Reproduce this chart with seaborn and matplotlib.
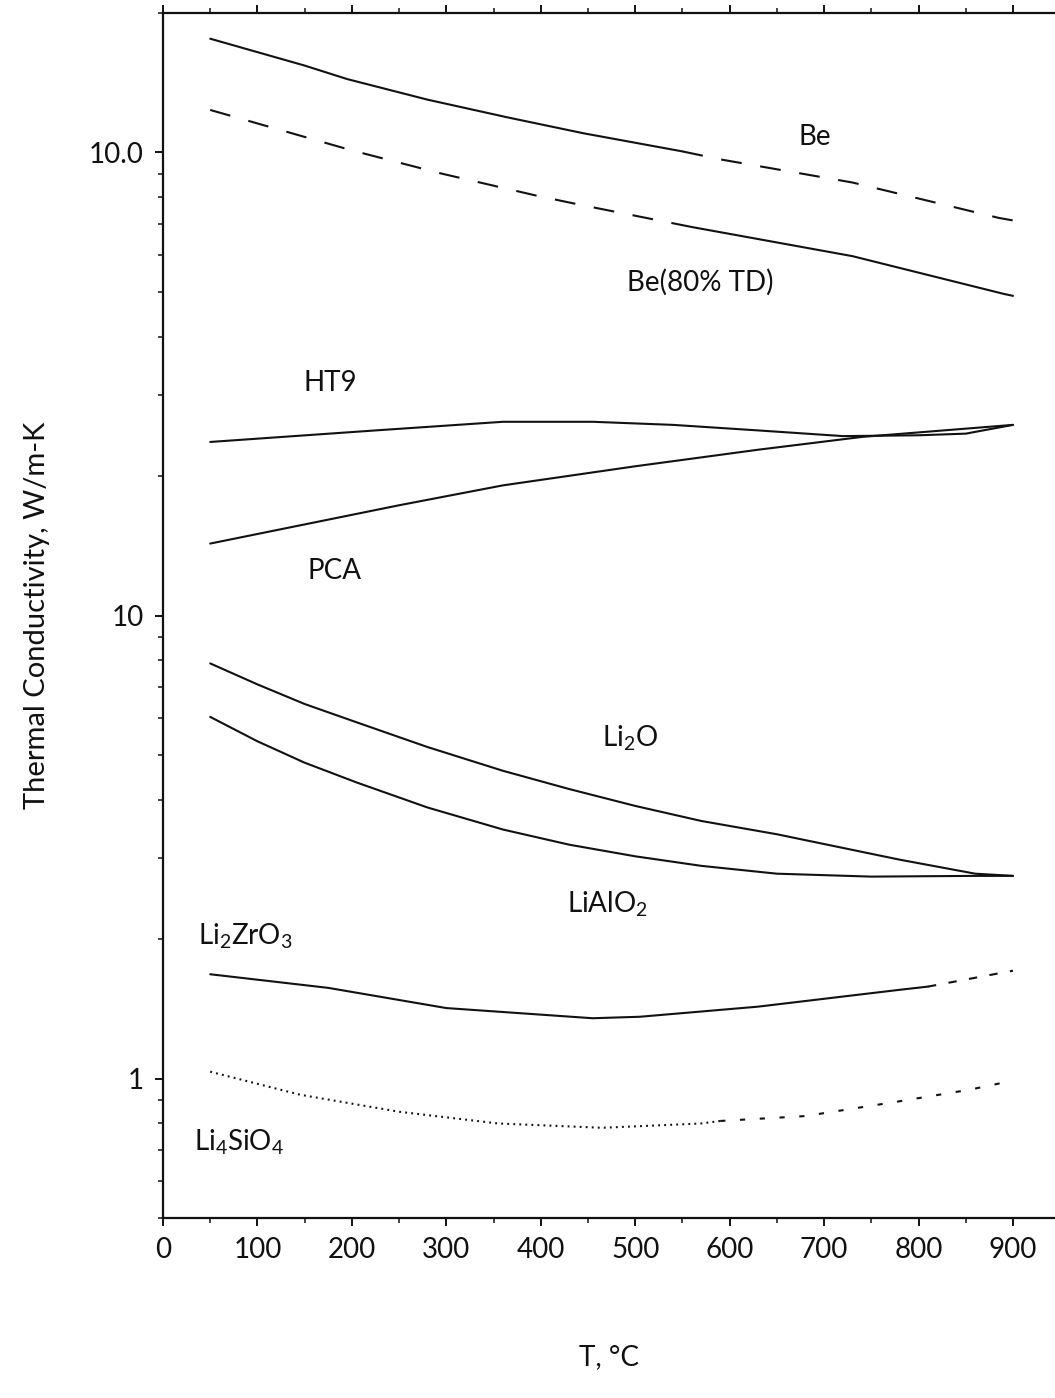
import numpy as np
import pandas as pd
import matplotlib
matplotlib.use("Agg")
import matplotlib.pyplot as plt
from matplotlib.ticker import FixedLocator, NullFormatter, FixedFormatter
import seaborn as sns

# ---------------- data ----------------
be_T = [50, 150, 195, 280, 365, 445, 550, 590, 730, 885, 900]
be_k = [176, 154, 144, 130, 119, 110, 100.5, 96.6, 86.1, 72.2, 71.3]

be80_T = [50, 200, 295, 395, 440, 560, 730, 890, 900]
be80_k = [123.5, 101, 90, 80.7, 77.2, 69.0, 59.7, 49.5, 49.0]

ht9_T = [50, 225, 360, 455, 540, 630, 720, 800, 850, 900]
ht9_k = [23.7, 25.1, 26.2, 26.2, 25.8, 25.1, 24.4, 24.5, 24.7, 25.8]

pca_T = [50, 250, 360, 500, 630, 740, 900]
pca_k = [14.3, 17.3, 19.1, 21.0, 22.8, 24.3, 25.8]

li2o_T = [50, 100, 150, 205, 280, 360, 430, 500, 570, 650, 780, 860, 900]
li2o_k = [7.88, 7.1, 6.44, 5.88, 5.2, 4.62, 4.22, 3.88, 3.6, 3.37, 2.97, 2.77, 2.74]

lialo2_T = [50, 100, 150, 205, 280, 360, 430, 500, 570, 650, 750, 860, 900]
lialo2_k = [6.04, 5.35, 4.81, 4.36, 3.85, 3.45, 3.2, 3.02, 2.88, 2.77, 2.73, 2.74, 2.74]

li2zro3_T = [50, 175, 300, 455, 505, 630, 780, 810, 900]
li2zro3_k = [1.68, 1.57, 1.42, 1.35, 1.36, 1.43, 1.555, 1.58, 1.71]

li4sio4_T = [50, 145, 250, 355, 465, 570, 590, 680, 775, 855, 900]
li4sio4_k = [1.035, 0.923, 0.848, 0.800, 0.783, 0.800, 0.810, 0.830, 0.890, 0.947, 0.990]

x_ticks = [0, 100, 200, 300, 400, 500, 600, 700, 800, 900]
y_major = [1, 10, 100]
y_major_labels = ["1", "10", "10.0"]

labels = ["Be", "Be(80% TD)", "HT9", "PCA", "Li$_2$O", "LiAlO$_2$",
          "Li$_2$ZrO$_3$", "Li$_4$SiO$_4$"]
label_T = [690, 569, 177, 182, 494, 471, 87, 81]
label_k = [108, 52.3, 31.8, 12.5, 5.42, 2.38, 2.03, 0.73]

# ---------------- style ----------------
sns.set_style("ticks")
plt.rcParams["font.family"] = ["Lato", "DejaVu Sans"]
plt.rcParams["mathtext.default"] = "regular"

fig = plt.figure(figsize=(10.55, 13.98), dpi=100)
ax = fig.add_axes([163 / 1055, 180 / 1398, 1 - 163 / 1055, (1218 - 13) / 1398])

LW = 1.5
INK = "#111111"


def seg(T, k, lo, hi, ls):
    df = pd.DataFrame({"T": T, "k": k})
    df = df[(df["T"] >= lo) & (df["T"] <= hi)]
    sns.lineplot(data=df, x="T", y="k", ax=ax, color=INK, lw=LW,
                 estimator=None, sort=False, linestyle=ls)


seg(be_T, be_k, 0, 550, "-")
seg(be_T, be_k, 550, 1000, (0, (10, 9)))
seg(be80_T, be80_k, 0, 560, (0, (10, 9)))
seg(be80_T, be80_k, 560, 1000, "-")
seg(ht9_T, ht9_k, 0, 1000, "-")
seg(pca_T, pca_k, 0, 1000, "-")
seg(li2o_T, li2o_k, 0, 1000, "-")
seg(lialo2_T, lialo2_k, 0, 1000, "-")
seg(li2zro3_T, li2zro3_k, 0, 810, "-")
seg(li2zro3_T, li2zro3_k, 810, 1000, (0, (4, 6)))
seg(li4sio4_T, li4sio4_k, 0, 590, (0, (0.9, 2.0)))
seg(li4sio4_T, li4sio4_k, 590, 1000, (0, (2.5, 7)))

for txt, t, k in zip(labels, label_T, label_k):
    ax.text(t, k, txt, fontsize=20, ha="center", va="center", color=INK)

ax.set_yscale("log")
ax.set_xlim(0, 944.5)
ax.set_ylim(0.5, 200)

ax.xaxis.set_major_locator(FixedLocator(x_ticks))
ax.xaxis.set_minor_locator(FixedLocator([50 + 100 * i for i in range(9)]))
ax.set_xticklabels([str(v) for v in x_ticks])

minors = [0.5, 0.6, 0.7, 0.8, 0.9] + [m * 10 ** e for e in (0, 1) for m in range(2, 10)] + [200]
ax.yaxis.set_major_locator(FixedLocator(y_major))
ax.yaxis.set_major_formatter(FixedFormatter(y_major_labels))
ax.yaxis.set_minor_locator(FixedLocator(minors))
ax.yaxis.set_minor_formatter(NullFormatter())

ax.tick_params(axis="both", which="major", direction="out", length=6, width=1.4,
               labelsize=20, colors=INK, pad=8)
ax.tick_params(axis="both", which="minor", direction="out", length=3.5, width=1.2)
ax.tick_params(axis="x", top=True, which="both")
ax.tick_params(axis="x", labeltop=False)

for s in ["left", "bottom", "top"]:
    ax.spines[s].set_linewidth(1.6)
    ax.spines[s].set_color(INK)
ax.spines["right"].set_visible(False)

ax.set_xlabel("T, °C", fontsize=20, labelpad=58, color=INK)
ax.set_ylabel("Thermal Conductivity, W/m-K", fontsize=21, labelpad=28, color=INK)

fig.savefig("out.png", dpi=100)
